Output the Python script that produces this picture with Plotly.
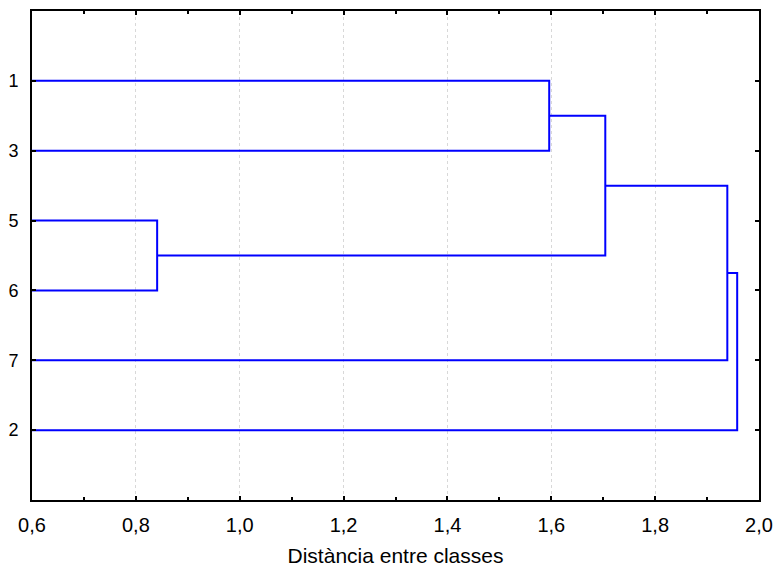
import plotly.graph_objects as go

# Leaf order (top to bottom) and labels
leaf_labels = ["1", "3", "5", "6", "7", "2"]
# Merges: (node_a, node_b, distance); nodes 0..5 are leaves, new nodes get 6, 7, ...
merge_a = [0, 2, 6, 8, 9]
merge_b = [1, 3, 7, 4, 5]
merge_dist = [1.596, 0.841, 1.704, 1.939, 1.958]

x_min, x_max = 0.6, 2.0
x_ticks = [0.6, 0.8, 1.0, 1.2, 1.4, 1.6, 1.8, 2.0]
x_title = "Distància entre classes"

# node positions: (y, x)
node_y = {i: float(i) for i in range(len(leaf_labels))}
node_x = {i: x_min for i in range(len(leaf_labels))}

xs, ys = [], []
nid = len(leaf_labels)
for a, b, d in zip(merge_a, merge_b, merge_dist):
    xs += [node_x[a], d, d, node_x[b], None]
    ys += [node_y[a], node_y[a], node_y[b], node_y[b], None]
    node_y[nid] = (node_y[a] + node_y[b]) / 2
    node_x[nid] = d
    nid += 1

fig = go.Figure()
fig.add_trace(go.Scatter(x=xs, y=ys, mode="lines",
                         line=dict(color="#0000ff", width=2),
                         hoverinfo="skip", showlegend=False))

font = dict(family="Liberation Sans, Arial, sans-serif", size=19, color="#000000")
fig.update_layout(
    width=774, height=570,
    margin=dict(l=31.5, r=15, t=10.5, b=70),
    paper_bgcolor="white", plot_bgcolor="white",
    separators=",.",
    font=font,
    showlegend=False,
)
fig.update_xaxes(
    range=[x_min, x_max], tickvals=x_ticks, tickformat=".1f",
    showline=True, linecolor="black", linewidth=2, mirror="ticks",
    ticks="inside", ticklen=4, tickcolor="black", tickwidth=2,
    showgrid=True, gridcolor="#d8d8d8", griddash="dot", gridwidth=1,
    minor=dict(dtick=0.1, tick0=0.6, ticks="inside", ticklen=3, tickcolor="black", tickwidth=1.5, showgrid=False),
    zeroline=False, automargin=False,
    title=dict(text=x_title, font=dict(size=21), standoff=13),
    tickfont=dict(size=20), ticklabelstandoff=6,
)
fig.update_yaxes(
    range=[len(leaf_labels), -1],
    tickvals=list(range(len(leaf_labels))), ticktext=leaf_labels,
    showline=True, linecolor="black", linewidth=2, mirror="ticks",
    ticks="inside", ticklen=4, tickcolor="black", tickwidth=2,
    showgrid=False, zeroline=False, automargin=False,
    tickfont=dict(size=18), ticklabelstandoff=8,
)
fig.write_html("out.html")
